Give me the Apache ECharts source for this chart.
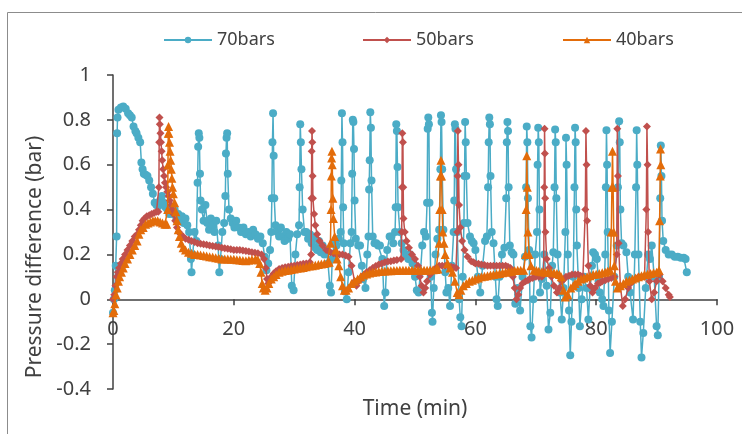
<!DOCTYPE html>
<html>
<head>
<meta charset="utf-8">
<script src="https://cdn.jsdelivr.net/npm/echarts@6/dist/echarts.min.js"></script>
<style>
html,body{margin:0;padding:0;background:#fff;}
#chart{width:742px;height:434px;}
</style>
</head>
<body>
<div id="chart"></div>
<script>
// Series names shown in the legend
const seriesNames = ['70bars', '50bars', '40bars'];

// Axis ranges [min, max, interval]
const xRange = [0, 100, 20];
const yRange = [-0.4, 1, 0.2];

// [time (min), pressure difference (bar)] - 70 bars
const p70 = [
  [0,-0.06],[0.15,0.0],[0.3,0.04],[0.45,0.15],[0.6,0.28],[0.68,0.74],[0.75,0.81],[0.9,0.845],[1.3,0.855],[1.7,0.86],
  [2.1,0.85],[2.5,0.83],[2.8,0.82],[3.1,0.81],[3.4,0.77],[3.7,0.75],[3.9,0.74],[4.2,0.72],[4.5,0.70],[4.7,0.61],
  [4.9,0.58],[5.1,0.56],[5.4,0.555],[5.7,0.55],[6.0,0.53],[6.3,0.50],[6.6,0.47],[6.9,0.43],[7.2,0.42],[7.5,0.415],
  [7.8,0.44],[8.1,0.46],[8.4,0.43],[8.7,0.41],[9.0,0.40],[9.3,0.38],[9.6,0.41],[9.9,0.38],[10.2,0.40],[10.5,0.36],
  [10.8,0.38],[11.1,0.35],[11.4,0.37],[11.7,0.34],[12.0,0.36],[12.3,0.33],[12.6,0.30],[12.9,0.18],[13.0,0.12],[13.2,0.20],
  [13.5,0.30],[13.8,0.26],[14.0,0.52],[14.1,0.68],[14.2,0.74],[14.3,0.72],[14.4,0.56],[14.5,0.44],[14.7,0.40],[15.0,0.35],
  [15.3,0.42],[15.6,0.34],[15.9,0.31],[16.2,0.36],[16.5,0.33],[16.8,0.30],[17.1,0.35],[17.4,0.24],[17.6,0.12],[17.8,0.18],
  [18.1,0.30],[18.4,0.34],[18.6,0.46],[18.7,0.65],[18.8,0.72],[18.9,0.74],[19.0,0.56],[19.2,0.40],[19.5,0.36],[19.8,0.34],
  [20.1,0.32],[20.4,0.35],[20.8,0.32],[21.2,0.30],[21.6,0.32],[22.0,0.29],[22.4,0.30],[22.8,0.28],[23.2,0.31],[23.6,0.29],
  [24.0,0.27],[24.4,0.28],[24.8,0.25],[25.1,0.19],[25.4,0.13],[25.7,0.16],[26.0,0.22],[26.2,0.30],[26.3,0.45],[26.4,0.70],
  [26.5,0.83],[26.6,0.64],[26.7,0.45],[26.9,0.33],[27.2,0.30],[27.5,0.28],[27.8,0.32],[28.1,0.28],[28.4,0.26],[28.7,0.30],
  [29.0,0.27],[29.3,0.29],[29.6,0.06],[29.9,0.04],[30.2,0.20],[30.5,0.29],[30.8,0.33],[30.9,0.50],[31.0,0.78],[31.1,0.70],
  [31.2,0.58],[31.4,0.40],[31.7,0.30],[32.0,0.30],[32.3,0.27],[32.6,0.29],[32.9,0.25],[33.2,0.28],[33.5,0.23],[33.8,0.22],
  [34.1,0.26],[34.4,0.21],[34.7,0.24],[35.0,0.20],[35.3,0.22],[35.6,0.16],[35.9,0.06],[36.1,0.03],[36.3,0.18],[36.6,0.25],
  [37.0,0.24],[37.4,0.27],[37.7,0.30],[37.8,0.53],[37.9,0.83],[38.0,0.70],[38.1,0.41],[38.2,0.25],[38.4,0.035],[38.7,0.0],
  [39.0,0.12],[39.3,0.25],[39.5,0.30],[39.6,0.56],[39.7,0.80],[39.8,0.79],[39.9,0.67],[40.0,0.44],[40.2,0.27],[40.6,0.24],
  [40.9,0.24],[41.2,0.15],[41.4,0.09],[41.8,0.05],[42.1,0.20],[42.3,0.28],[42.4,0.49],[42.5,0.62],[42.6,0.834],[42.7,0.765],
  [42.8,0.53],[43.0,0.28],[43.3,0.25],[43.6,0.25],[43.9,0.24],[44.2,0.24],[44.6,0.18],[44.9,-0.03],[45.1,0.03],[45.4,0.22],
  [45.8,0.28],[46.1,0.28],[46.4,0.25],[46.7,0.30],[46.8,0.41],[46.9,0.78],[47.0,0.75],[47.1,0.59],[47.2,0.41],[47.5,0.30],
  [47.8,0.25],[48.1,0.22],[48.5,0.20],[48.9,0.18],[49.2,0.20],[49.6,0.16],[50.0,0.10],[50.3,0.04],[50.6,0.03],[50.9,0.12],
  [51.2,0.24],[51.5,0.30],[51.8,0.28],[52.0,0.43],[52.1,0.76],[52.2,0.81],[52.3,0.78],[52.4,0.43],[52.6,0.10],[52.8,-0.06],
  [52.9,-0.10],[53.1,0.05],[53.4,0.20],[53.7,0.27],[54.0,0.31],[54.2,0.58],[54.3,0.82],[54.4,0.79],[54.5,0.58],[54.7,0.31],
  [55.0,0.12],[55.2,0.03],[55.5,0.05],[55.8,-0.03],[56.1,0.15],[56.4,0.30],[56.5,0.44],[56.6,0.78],[56.7,0.76],[56.8,0.58],
  [57.0,0.30],[57.3,0.00],[57.5,-0.08],[57.7,-0.12],[57.9,0.10],[58.1,0.34],[58.2,0.55],[58.3,0.79],[58.4,0.70],[58.5,0.55],
  [58.7,0.34],[59.1,0.28],[59.4,0.26],[59.7,0.25],[60.0,0.22],[60.4,0.10],[60.8,0.03],[61.2,0.15],[61.6,0.26],[61.9,0.28],
  [62.1,0.50],[62.2,0.70],[62.3,0.81],[62.4,0.78],[62.5,0.55],[62.7,0.30],[63.0,0.25],[63.3,0.10],[63.5,0.0],[63.7,-0.03],
  [64.0,0.10],[64.4,0.20],[64.8,0.23],[65.1,0.45],[65.2,0.70],[65.3,0.79],[65.4,0.75],[65.5,0.50],[65.7,0.24],[66.0,0.21],
  [66.3,0.20],[66.6,-0.02],[67.0,0.05],[67.4,-0.05],[67.8,0.10],[68.2,0.19],[68.4,0.50],[68.5,0.77],[68.6,0.70],[68.7,0.45],
  [68.9,0.22],[69.1,-0.12],[69.3,-0.17],[69.6,0.0],[69.9,0.20],[70.2,0.30],[70.3,0.60],[70.4,0.765],[70.5,0.70],[70.6,0.40],
  [70.7,0.03],[71.0,0.09],[71.4,0.20],[71.8,0.06],[72.1,-0.135],[72.4,-0.06],[72.7,0.15],[72.9,0.21],[73.1,0.50],[73.2,0.757],
  [73.3,0.70],[73.4,0.45],[73.6,0.20],[74.0,0.03],[74.3,-0.09],[74.6,0.05],[74.9,0.30],[75.0,0.72],[75.1,0.60],[75.3,0.20],
  [75.5,-0.05],[75.7,-0.25],[75.9,-0.10],[76.2,0.10],[76.4,0.50],[76.5,0.765],[76.6,0.70],[76.7,0.40],[76.8,0.24],[77.1,0.05],
  [77.3,-0.12],[77.6,0.0],[78.0,0.10],[78.4,0.05],[78.7,-0.09],[79.0,0.05],[79.3,0.15],[79.5,0.21],[79.8,0.20],[80.1,0.18],
  [80.4,0.08],[80.6,0.03],[81.0,0.0],[81.2,-0.03],[81.5,0.20],[81.6,0.50],[81.7,0.754],[81.8,0.60],[81.9,0.30],[82.1,-0.05],
  [82.3,-0.24],[82.6,-0.10],[83.0,0.10],[83.4,0.24],[83.6,0.50],[83.8,0.794],[83.9,0.70],[84.0,0.40],[84.2,0.25],[84.5,0.24],
  [85.0,0.21],[85.3,0.10],[85.6,0.03],[86.1,-0.09],[86.4,0.20],[86.6,0.50],[86.7,0.754],[86.8,0.60],[87.0,0.20],[87.3,-0.10],
  [87.5,-0.26],[87.8,-0.15],[88.2,0.05],[88.6,0.20],[88.9,0.18],[89.2,0.24],[89.6,0.10],[90.0,-0.12],[90.2,-0.16],[90.4,0.10],
  [90.6,0.45],[90.7,0.686],[90.8,0.55],[90.9,0.35],[91.1,0.26],[91.5,0.22],[92.0,0.20],[92.5,0.20],[93.0,0.19],[93.5,0.19],
  [94.0,0.185],[94.5,0.185],[94.8,0.18],[95.0,0.12]
];

// [time (min), pressure difference (bar)] - 50 bars
const p50 = [
  [0,0],[0.2,0.02],[0.4,0.06],[0.6,0.10],[0.8,0.12],[1.0,0.14],[1.3,0.16],[1.6,0.18],[2.0,0.20],[2.4,0.22],
  [2.8,0.24],[3.2,0.26],[3.6,0.28],[4.0,0.29],[4.3,0.31],[4.6,0.33],[4.9,0.35],[5.2,0.36],[5.6,0.37],[6.0,0.375],
  [6.4,0.38],[6.8,0.385],[7.2,0.39],[7.5,0.39],[7.6,0.50],[7.65,0.70],[7.7,0.81],[7.75,0.78],[7.85,0.74],[7.95,0.70],
  [8.05,0.66],[8.15,0.62],[8.3,0.58],[8.45,0.55],[8.6,0.52],[8.8,0.50],[9.0,0.48],[9.2,0.46],[9.4,0.44],[9.6,0.42],
  [9.8,0.40],[10.0,0.38],[10.3,0.35],[10.6,0.32],[10.9,0.30],[11.2,0.29],[11.6,0.28],[12.0,0.27],[12.5,0.265],[13,0.26],
  [13.5,0.255],[14,0.25],[14.5,0.248],[15,0.245],[15.5,0.243],[16,0.24],[16.5,0.238],[17,0.235],[17.5,0.233],[18,0.23],
  [18.5,0.228],[19,0.225],[19.5,0.223],[20,0.22],[20.5,0.22],[21,0.22],[21.5,0.218],[22,0.215],[22.5,0.213],[23,0.21],
  [23.5,0.208],[24,0.205],[24.6,0.20],[25.0,0.18],[25.3,0.14],[25.5,0.09],[25.7,0.07],[25.9,0.08],[26.2,0.10],[26.6,0.115],
  [27,0.125],[27.5,0.135],[28,0.14],[28.5,0.143],[29,0.145],[29.5,0.148],[30,0.15],[30.5,0.153],[31,0.155],[31.5,0.158],
  [32,0.16],[32.6,0.165],[32.8,0.20],[32.85,0.45],[32.9,0.66],[32.95,0.75],[33.0,0.70],[33.05,0.55],[33.1,0.45],[33.3,0.38],
  [33.5,0.33],[33.8,0.29],[34.2,0.26],[34.7,0.24],[35.3,0.22],[35.7,0.215],[36,0.21],[36.5,0.205],[37,0.20],[37.5,0.20],
  [38,0.20],[38.5,0.195],[39,0.19],[39.5,0.15],[40.0,0.08],[40.3,0.06],[40.7,0.08],[41.2,0.10],[41.6,0.11],[42,0.12],
  [42.5,0.13],[43,0.14],[43.5,0.148],[44,0.155],[44.5,0.16],[45,0.165],[45.5,0.168],[46,0.17],[46.5,0.173],[47,0.175],
  [47.7,0.18],[47.8,0.30],[47.85,0.50],[47.9,0.74],[48.0,0.70],[48.05,0.50],[48.1,0.36],[48.3,0.30],[48.6,0.26],[49,0.23],
  [49.5,0.20],[50,0.18],[50.5,0.15],[50.8,0.10],[51.1,0.06],[51.4,0.03],[51.7,0.05],[52,0.08],[52.5,0.11],[53,0.13],
  [53.5,0.14],[54,0.15],[54.5,0.15],[55,0.15],[55.5,0.148],[56,0.145],[56.4,0.142],[56.8,0.14],[57.0,0.30],[57.05,0.55],
  [57.1,0.75],[57.2,0.60],[57.3,0.42],[57.5,0.32],[57.8,0.26],[58.2,0.22],[58.7,0.19],[59.3,0.17],[59.7,0.165],[60,0.16],
  [60.5,0.158],[61,0.155],[61.5,0.153],[62,0.15],[62.5,0.15],[63,0.15],[63.5,0.15],[64,0.15],[64.5,0.15],[65,0.15],
  [65.4,0.145],[65.8,0.14],[66.2,0.10],[66.5,0.05],[66.8,0.0],[67.1,0.02],[67.4,0.05],[67.8,0.07],[68.3,0.08],[68.7,0.085],
  [69,0.09],[69.5,0.095],[70,0.10],[70.5,0.10],[71,0.10],[71.3,0.12],[71.4,0.50],[71.45,0.76],[71.5,0.65],[71.55,0.45],
  [71.6,0.30],[71.8,0.18],[72.2,0.14],[72.6,0.10],[73.0,0.06],[73.5,0.03],[73.9,0.05],[74.3,0.08],[74.7,0.09],[75,0.10],
  [75.5,0.105],[76,0.11],[76.5,0.11],[77,0.11],[77.4,0.105],[77.8,0.10],[78.2,0.40],[78.3,0.75],[78.4,0.60],[78.5,0.35],
  [78.7,0.15],[79,0.06],[79.4,0.03],[79.8,0.05],[80.3,0.07],[80.7,0.075],[81,0.08],[81.5,0.085],[82,0.09],[82.5,0.095],
  [83,0.10],[83.4,0.20],[83.5,0.76],[83.6,0.55],[83.7,0.25],[84,0.06],[84.4,-0.03],[84.8,0.0],[85.3,0.05],[85.7,0.07],
  [86,0.08],[86.5,0.09],[87,0.10],[87.5,0.10],[88,0.10],[88.3,0.40],[88.4,0.77],[88.5,0.60],[88.6,0.30],[88.8,0.08],
  [89.2,0.0],[89.6,0.03],[90.0,0.08],[90.5,0.11],[91,0.08],[91.5,0.05],[92,0.02],[92.2,0.01]
];

// [time (min), pressure difference (bar)] - 40 bars
const p40 = [
  [0,-0.06],[0.15,-0.05],[0.3,-0.02],[0.5,0.02],[0.7,0.05],[0.9,0.08],[1.1,0.10],[1.4,0.12],[1.7,0.14],[2.0,0.16],
  [2.4,0.18],[2.8,0.20],[3.2,0.22],[3.6,0.24],[4.0,0.26],[4.3,0.29],[4.6,0.31],[5.0,0.32],[5.4,0.335],[5.8,0.34],
  [6.2,0.345],[6.6,0.35],[7.0,0.35],[7.4,0.35],[7.8,0.345],[8.2,0.34],[8.6,0.335],[8.9,0.335],[9.05,0.40],[9.1,0.60],
  [9.15,0.74],[9.2,0.77],[9.25,0.74],[9.35,0.70],[9.45,0.66],[9.55,0.62],[9.65,0.58],[9.75,0.54],[9.85,0.50],[10.0,0.47],
  [10.2,0.43],[10.4,0.39],[10.6,0.35],[10.8,0.31],[11.0,0.28],[11.3,0.25],[11.6,0.23],[12.0,0.22],[12.5,0.21],[13,0.205],
  [13.5,0.20],[14,0.20],[14.5,0.198],[15,0.195],[15.5,0.193],[16,0.19],[16.5,0.188],[17,0.185],[17.5,0.183],[18,0.18],
  [18.5,0.18],[19,0.18],[19.5,0.178],[20,0.178],[20.5,0.176],[21,0.175],[21.5,0.173],[22,0.172],[22.5,0.174],[23,0.177],
  [23.6,0.18],[24.0,0.175],[24.3,0.16],[24.5,0.12],[24.7,0.07],[24.9,0.05],[25.2,0.04],[25.5,0.05],[25.8,0.07],[26.2,0.09],
  [26.6,0.10],[27,0.11],[27.5,0.12],[28,0.125],[28.5,0.128],[29,0.13],[29.5,0.133],[30,0.135],[30.5,0.138],[31,0.14],
  [31.5,0.142],[32,0.145],[32.5,0.148],[33,0.15],[33.5,0.152],[34,0.155],[34.5,0.157],[35,0.16],[35.5,0.163],[35.8,0.165],
  [36.0,0.25],[36.1,0.40],[36.15,0.55],[36.2,0.63],[36.25,0.66],[36.3,0.60],[36.4,0.45],[36.5,0.36],[36.7,0.28],[36.9,0.22],
  [37.1,0.18],[37.4,0.15],[37.7,0.10],[38.0,0.06],[38.3,0.04],[38.6,0.04],[39,0.05],[39.5,0.07],[40,0.08],[40.5,0.09],
  [41,0.10],[41.5,0.108],[42,0.113],[42.5,0.117],[43,0.12],[43.5,0.122],[44,0.124],[44.5,0.125],[45,0.126],[45.5,0.127],
  [46,0.127],[46.5,0.128],[47,0.128],[47.5,0.129],[48,0.13],[48.5,0.13],[49,0.13],[49.5,0.13],[50,0.13],[50.5,0.13],
  [51,0.13],[51.5,0.13],[52,0.13],[52.5,0.131],[53,0.132],[53.5,0.133],[53.8,0.135],[54.0,0.25],[54.1,0.40],[54.2,0.55],
  [54.3,0.62],[54.4,0.55],[54.5,0.40],[54.6,0.30],[54.8,0.25],[55.0,0.20],[55.4,0.16],[55.8,0.14],[56.2,0.12],[56.6,0.08],
  [57.0,0.03],[57.3,0.02],[57.6,0.04],[58,0.06],[58.5,0.07],[59,0.08],[59.5,0.085],[60,0.09],[60.5,0.095],[61,0.10],
  [61.5,0.103],[62,0.105],[62.5,0.108],[63,0.11],[63.5,0.113],[64,0.115],[64.5,0.118],[65,0.12],[65.5,0.123],[66,0.125],
  [66.5,0.128],[67,0.13],[67.5,0.13],[68,0.13],[68.3,0.20],[68.4,0.40],[68.5,0.64],[68.6,0.50],[68.7,0.30],[68.9,0.20],
  [69.2,0.15],[69.7,0.13],[70.1,0.128],[70.5,0.125],[71,0.123],[71.5,0.12],[72,0.12],[72.5,0.12],[73,0.118],[73.5,0.115],
  [73.9,0.11],[74.2,0.10],[74.6,0.04],[74.9,0.01],[75.3,0.02],[75.8,0.05],[76.2,0.06],[76.5,0.07],[77,0.08],[77.5,0.09],
  [78,0.095],[78.5,0.10],[79,0.105],[79.5,0.11],[80,0.112],[80.5,0.115],[81,0.118],[81.5,0.12],[81.9,0.125],[82.3,0.13],
  [82.5,0.30],[82.6,0.50],[82.7,0.66],[82.8,0.50],[82.9,0.30],[83.0,0.15],[83.2,0.08],[83.5,0.05],[84,0.06],[84.5,0.07],
  [85,0.08],[85.5,0.085],[86,0.09],[86.5,0.095],[87,0.10],[87.5,0.105],[88,0.11],[88.5,0.112],[89,0.115],[89.5,0.118],
  [90,0.12],[90.4,0.13],[90.5,0.35],[90.6,0.55],[90.65,0.67],[90.7,0.60]
];

const colors = ['#4BACC6', '#C0504D', '#E36C0A'];
const symbols = ['circle', 'diamond', 'triangle'];
const symbolSizes = [8, 8, 9];
const dataSets = [p70, p50, p40];

const font = "'Noto Sans', 'Open Sans', sans-serif";
const textColor = '#404040';
const axisColor = '#404040';

const chart = echarts.init(document.getElementById('chart'), null, { renderer: 'canvas' });

// Plot area in pixels
const gridBox = { left: 113, right: 25, top: 75, bottom: 45 };
const gridHeight = 434 - gridBox.top - gridBox.bottom;
// Shift the time axis up so it crosses the vertical axis at zero pressure
const xAxisOffset = -gridHeight * (0 - yRange[0]) / (yRange[1] - yRange[0]);

const legendLefts = [163, 362, 562];

chart.setOption({
  animation: false,
  backgroundColor: '#ffffff',
  graphic: [{
    type: 'rect',
    silent: true,
    shape: { x: 7.5, y: 12.5, width: 800, height: 500 },
    style: { fill: 'none', stroke: '#8c8c8c', lineWidth: 1 }
  }],
  legend: seriesNames.map((name, i) => ({
    data: [name],
    left: legendLefts[i],
    top: 31,
    padding: 0,
    itemWidth: 48,
    itemHeight: 8,
    itemGap: 4,
    textStyle: { fontFamily: font, fontSize: 18, color: textColor }
  })),
  grid: Object.assign({ containLabel: false, outerBoundsMode: 'none' }, gridBox),
  xAxis: {
    type: 'value',
    min: xRange[0], max: xRange[1], interval: xRange[2],
    offset: xAxisOffset,
    name: 'Time (min)',
    nameLocation: 'middle',
    nameGap: 99,
    nameTextStyle: { fontFamily: font, fontSize: 21, color: textColor },
    axisLine: { onZero: false, lineStyle: { color: axisColor, width: 1.5 } },
    axisTick: { show: true, length: 6, lineStyle: { color: axisColor, width: 1.5 } },
    axisLabel: {
      fontFamily: font, fontSize: 20, color: textColor, margin: 20,
      align: 'center', alignMinLabel: 'center', alignMaxLabel: 'center'
    },
    splitLine: { show: false }
  },
  yAxis: {
    type: 'value',
    min: yRange[0], max: yRange[1], interval: yRange[2],
    name: 'Pressure difference (bar)',
    nameLocation: 'middle',
    nameGap: 58,
    nameTextStyle: { fontFamily: font, fontSize: 21, color: textColor, padding: [0, 50, 0, 0] },
    axisLine: { show: true, onZero: false, lineStyle: { color: axisColor, width: 1.5 } },
    axisTick: { show: true, length: 6, lineStyle: { color: axisColor, width: 1.5 } },
    axisLabel: {
      fontFamily: font, fontSize: 20, color: textColor, margin: 22,
      formatter: v => String(+v.toFixed(1))
    },
    splitLine: { show: false }
  },
  series: dataSets.map((d, i) => ({
    name: seriesNames[i],
    type: 'line',
    data: d,
    symbol: symbols[i],
    symbolSize: symbolSizes[i],
    showAllSymbol: true,
    lineStyle: { color: colors[i], width: 1.5 },
    itemStyle: { color: colors[i], borderWidth: 0 },
    z: 2 + i
  }))
});
</script>
</body>
</html>
